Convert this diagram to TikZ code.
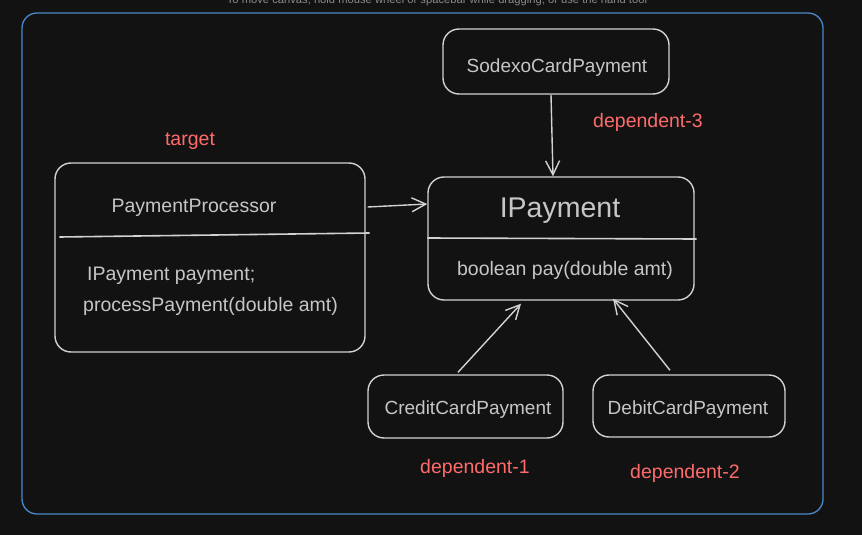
\documentclass[tikz,border=0pt]{standalone}
\usepackage{fontspec}
\setmainfont{Liberation Sans}
\usetikzlibrary{arrows.meta}
\definecolor{bg}{HTML}{121212}
\definecolor{frameblue}{HTML}{4A88C7}
\definecolor{ink}{HTML}{D2D2D2}
\definecolor{txt}{HTML}{C6C6C6}
\definecolor{lbl}{HTML}{FF6B6B}
\definecolor{hint}{HTML}{8A8A8A}
\tikzset{
  box/.style={draw=ink, line width=1.4pt, rounded corners=16pt, inner sep=0pt},
  t/.style={text=txt, font=\fontsize{19.5}{23}\selectfont, inner sep=0pt, yshift=-2.5pt},
  tb/.style={text=txt, font=\fontsize{19}{23}\selectfont, inner sep=0pt, yshift=-2.5pt},
  lab/.style={text=lbl, font=\fontsize{19.5}{23}\selectfont, inner sep=0pt, yshift=-2.5pt},
  conn/.style={draw=ink, line width=1.4pt, -{Straight Barb[length=14pt,width=14pt,line width=1.4pt]}},
  divider/.style={draw=ink, line width=1.6pt}
}
\begin{document}
\begin{tikzpicture}[x=1pt,y=-1pt]
\fill[bg] (0,0) rectangle (862,535);
\useasboundingbox (0,0) rectangle (862,535);
\node[text=hint, font=\fontsize{11.2}{13}\selectfont, inner sep=0pt, anchor=base] (hinttext) at (437,4) {To move canvas, hold mouse wheel or spacebar while dragging, or use the hand tool};
\draw[frameblue, line width=1.3pt, rounded corners=15pt] (22,13) rectangle (823,514);

% PaymentProcessor
\node[box, minimum width=310pt, minimum height=189pt] (pp) at (210,257.5) {};
\node[t] (ppt) at (194,205) {PaymentProcessor};
\node[t, anchor=west] (ppf) at (87,273) {IPayment payment;};
\node[t, anchor=west] (ppm) at (83,304) {processPayment(double amt)};
\draw[divider] ([shift={(5,-20.5)}]pp.west) -- ([shift={(4,-24.5)}]pp.east);

% IPayment
\node[box, minimum width=266pt, minimum height=123pt] (ip) at (561,238.5) {};
\node[text=txt, font=\fontsize{28.5}{32}\selectfont, inner sep=0pt, yshift=-3pt] (ipt) at (560,208) {IPayment};
\node[t] (ipm) at (565,268) {boolean pay(double amt)};
\draw[divider] ([shift={(0,-0.5)}]ip.west) -- ([shift={(2,0.5)}]ip.east);

% Sodexo
\node[box, minimum width=226pt, minimum height=65pt] (sod) at (556,61.5) {};
\node[tb] (sodt) at (557,65) {SodexoCardPayment};

% Credit
\node[box, minimum width=195pt, minimum height=63pt] (cc) at (465.5,406.5) {};
\node[tb] (cct) at (468,407) {CreditCardPayment};

% Debit
\node[box, minimum width=192pt, minimum height=62pt] (dc) at (689,406) {};
\node[tb] (dct) at (688,407) {DebitCardPayment};

% labels
\node[lab] (ltarget) at (190,139) {target};
\node[lab] (ld3) at (648,120) {dependent-3};
\node[lab] (ld1) at (475,466) {dependent-1};
\node[lab] (ld2) at (685,471) {dependent-2};

% connectors
\draw[conn] ([shift={(2,-50.5)}]pp.east) -- ([shift={(0,-34.5)}]ip.west);
\draw[conn] ([xshift=-5pt]sod.south) -- ([xshift=-8pt]ip.north);
\draw[conn] ([shift={(-7.5,-2)}]cc.north) -- ([shift={(-40,3)}]ip.south);
\draw[conn] ([shift={(-19,-4)}]dc.north) -- ([shift={(52,-2)}]ip.south);
\end{tikzpicture}
\end{document}
